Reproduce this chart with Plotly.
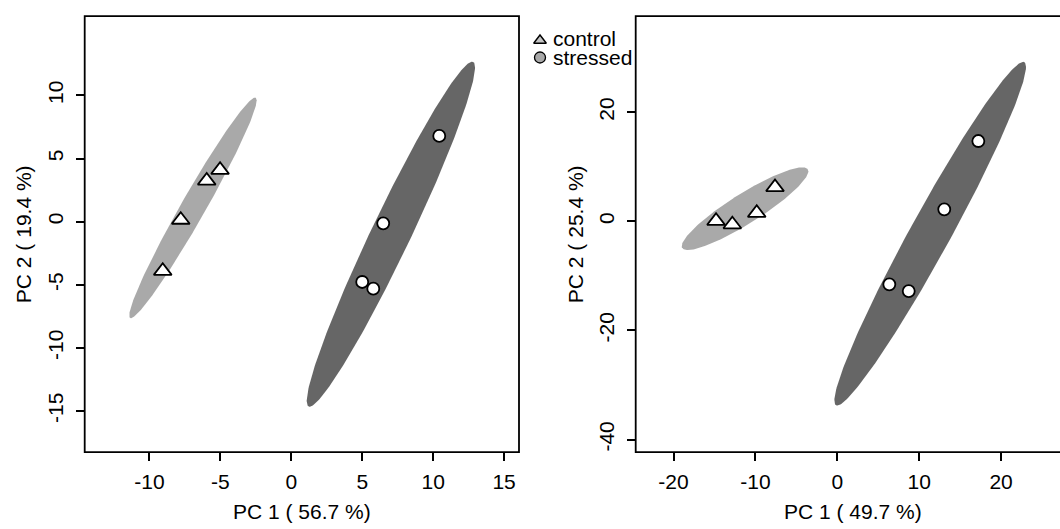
import numpy as np
import plotly.graph_objects as go

# ---------------- data ----------------
left_control_x = [-9.06, -7.79, -5.96, -5.02]
left_control_y = [-3.91, 0.14, 3.24, 4.09]
left_stressed_x = [5.00, 5.78, 6.48, 10.43]
left_stressed_y = [-4.78, -5.31, -0.13, 6.79]

right_control_x = [-14.81, -12.82, -9.84, -7.61]
right_control_y = [0.07, -0.57, 1.52, 6.25]
right_stressed_x = [6.35, 8.72, 13.06, 17.22]
right_stressed_y = [-11.55, -12.78, 2.20, 14.72]

# ellipse parameters: centre x, centre y, half x-extent, half y-extent, half horizontal chord through centre
left_control_ellipse = [-6.93, 1.09, 4.49, 8.74, 0.99]
left_stressed_ellipse = [7.02, -0.99, 5.93, 13.67, 1.53]
right_control_ellipse = [-11.27, 2.32, 7.73, 7.58, 3.3]
right_stressed_ellipse = [11.34, -2.27, 11.7, 31.5, 2.8]

left_xticks = [-10, -5, 0, 5, 10, 15]
left_yticks = [-15, -10, -5, 0, 5, 10]
right_xticks = [-20, -10, 0, 10, 20]
right_yticks = [-40, -20, 0, 20]

left_xlabel = "PC 1 ( 56.7 %)"
left_ylabel = "PC 2 ( 19.4 %)"
right_xlabel = "PC 1 ( 49.7 %)"
right_ylabel = "PC 2 ( 25.4 %)"
legend_labels = ["control", "stressed"]

# ---------------- helpers ----------------
def ellipse(params, n=240):
    cx, cy, hx, hy, hc = params
    sxx, syy = hx ** 2, hy ** 2
    sxy = np.sqrt(max(sxx * syy - hc ** 2 * syy, 0.0))
    S = np.array([[sxx, sxy], [sxy, syy]])
    L = np.linalg.cholesky(S)
    t = np.linspace(0, 2 * np.pi, n)
    pts = L @ np.vstack([np.cos(t), np.sin(t)])
    return cx + pts[0], cy + pts[1]

def ticktext(vals):
    return [str(v) for v in vals]  # ASCII hyphen-minus, as in the original

FONT = "Liberation Sans, Arial, sans-serif"
LIGHT = "#a9a9a9"
DARK = "#666666"

fig = go.Figure()

def add_panel(xa, ya, ce, se, cx, cy, sx, sy):
    for params, col in ((ce, LIGHT), (se, DARK)):
        ex, ey = ellipse(params)
        fig.add_trace(go.Scatter(x=ex, y=ey, mode="lines", fill="toself",
                                 fillcolor=col, line=dict(width=0, color=col),
                                 hoverinfo="skip", showlegend=False,
                                 xaxis=xa, yaxis=ya))
    fig.add_trace(go.Scatter(x=cx, y=cy, mode="markers", showlegend=False, name="control",
                             marker=dict(symbol="triangle-up", size=15.5, color="white",
                                         line=dict(color="black", width=1.8)),
                             xaxis=xa, yaxis=ya))
    fig.add_trace(go.Scatter(x=sx, y=sy, mode="markers", showlegend=False, name="stressed",
                             marker=dict(symbol="circle", size=12, color="white",
                                         line=dict(color="black", width=1.8)),
                             xaxis=xa, yaxis=ya))

add_panel("x", "y", left_control_ellipse, left_stressed_ellipse,
          left_control_x, left_control_y, left_stressed_x, left_stressed_y)
add_panel("x2", "y2", right_control_ellipse, right_stressed_ellipse,
          right_control_x, right_control_y, right_stressed_x, right_stressed_y)

# legend symbols on an overlay pixel axis
W, H = 1060, 529
fig.add_trace(go.Scatter(x=[540], y=[40.5], mode="markers", showlegend=False, hoverinfo="skip",
                         marker=dict(symbol="triangle-up", size=11, color="#c4c4c4",
                                     line=dict(color="black", width=1.4)),
                         xaxis="x3", yaxis="y3"))
fig.add_trace(go.Scatter(x=[540], y=[57.5], mode="markers", showlegend=False, hoverinfo="skip",
                         marker=dict(symbol="circle", size=11, color="#a8a8a8",
                                     line=dict(color="black", width=1.3)),
                         xaxis="x3", yaxis="y3"))

# geometry (pixels)
L_x0, L_x1 = 84.7, 519.0
R_x0 = 635.7
Y_top, Y_bot = 16.2, 452.1
px = lambda v: v / W
py = lambda v: (H - v) / H

axis_common = dict(showgrid=False, zeroline=False, showline=False, ticks="outside",
                   ticklen=8, tickwidth=1.8, tickcolor="black",
                   tickfont=dict(family=FONT, size=21, color="black"))

fig.update_layout(
    width=W, height=H, margin=dict(l=0, r=0, t=0, b=0),
    paper_bgcolor="white", plot_bgcolor="rgba(0,0,0,0)",
    showlegend=False,
    xaxis=dict(domain=[px(L_x0), px(L_x1)], range=[-14.56, 16.05], tickvals=left_xticks,
               ticktext=ticktext(left_xticks), ticklabelstandoff=3, anchor="y", **axis_common),
    yaxis=dict(domain=[py(Y_bot), py(Y_top)], range=[-18.26, 16.28], tickvals=left_yticks,
               ticktext=ticktext(left_yticks), ticklabelstandoff=4,
               tickangle=-90, anchor="x", **axis_common),
    xaxis2=dict(domain=[px(R_x0), 1.0], range=[-24.62, (W - 837.3) / 8.19], tickvals=right_xticks,
                ticktext=ticktext(right_xticks), ticklabelstandoff=3, anchor="y2", **axis_common),
    yaxis2=dict(domain=[py(Y_bot), py(Y_top)], range=[-42.3, 37.6], tickvals=right_yticks,
                ticktext=ticktext(right_yticks), ticklabelstandoff=4,
                tickangle=-90, anchor="x2", **axis_common),
    xaxis3=dict(domain=[0, 1], range=[0, W], visible=False, anchor="y3"),
    yaxis3=dict(domain=[0, 1], range=[H, 0], visible=False, anchor="x3"),
)

# frames
fig.add_shape(type="rect", xref="paper", yref="paper", x0=px(L_x0), x1=px(L_x1),
              y0=py(Y_bot), y1=py(Y_top), line=dict(color="black", width=1.8))
fig.add_shape(type="rect", xref="paper", yref="paper", x0=px(R_x0), x1=1.05,
              y0=py(Y_bot), y1=py(Y_top), line=dict(color="black", width=1.8))

# axis titles
tfont = dict(family=FONT, size=21, color="black")
fig.add_annotation(text=left_xlabel, x=px((L_x0 + L_x1) / 2), y=py(511), xref="paper", yref="paper",
                   showarrow=False, font=tfont, xanchor="center", yanchor="middle")
fig.add_annotation(text=right_xlabel, x=px(853), y=py(511), xref="paper", yref="paper",
                   showarrow=False, font=tfont, xanchor="center", yanchor="middle")
fig.add_annotation(text=left_ylabel, x=px(23), y=py((Y_top + Y_bot) / 2), xref="paper", yref="paper",
                   showarrow=False, font=tfont, textangle=-90, xanchor="center", yanchor="middle")
fig.add_annotation(text=right_ylabel, x=px(575), y=py((Y_top + Y_bot) / 2), xref="paper", yref="paper",
                   showarrow=False, font=tfont, textangle=-90, xanchor="center", yanchor="middle")

# legend texts
for lab, yy in zip(legend_labels, [38.5, 57.5]):
    fig.add_annotation(text=lab, x=px(551), y=py(yy), xref="paper", yref="paper",
                       showarrow=False, font=tfont, xanchor="left", yanchor="middle",
                       height=19, valign="middle")

fig.write_html("out.html")
